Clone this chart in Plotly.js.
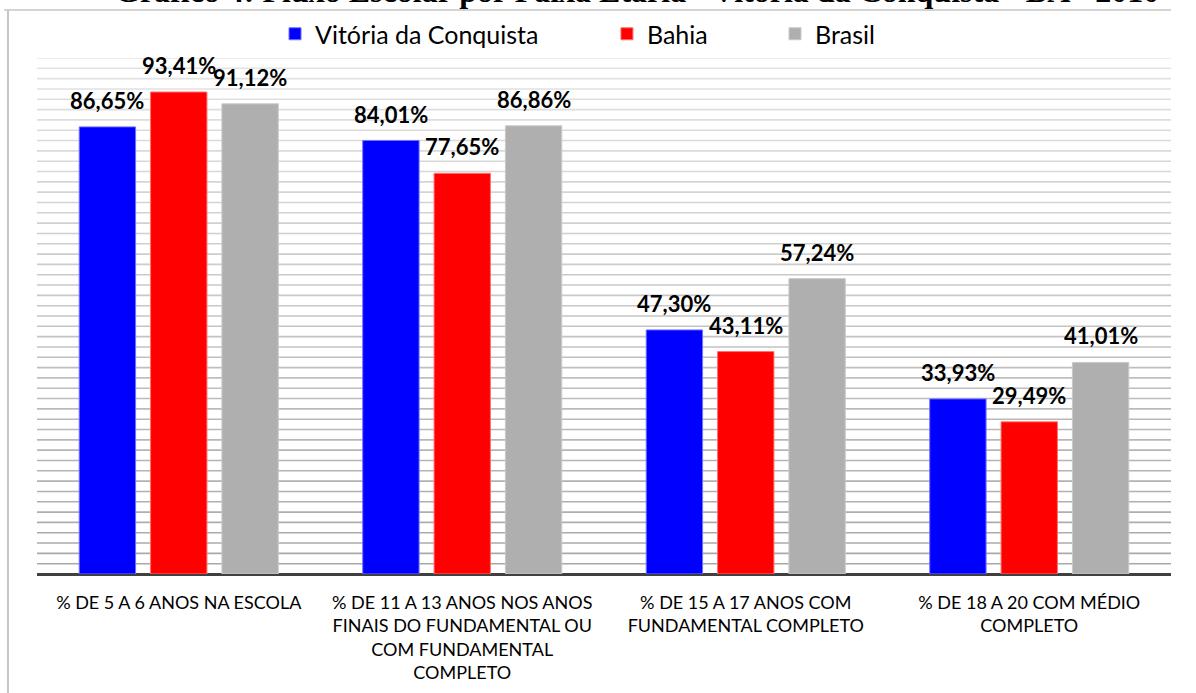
<!DOCTYPE html>
<html>
<head>
<meta charset="utf-8">
<script src="https://cdn.plot.ly/plotly-3.0.1.min.js"></script>
<style>html,body{margin:0;padding:0;background:#fff;}#chart{width:1196px;height:693px;}</style>
</head>
<body>
<div id="chart"></div>
<script>
const categories = [
  "% DE 5 A 6 ANOS NA ESCOLA",
  "% DE 11 A 13 ANOS NOS ANOS<br>FINAIS DO FUNDAMENTAL OU<br>COM FUNDAMENTAL<br>COMPLETO",
  "% DE 15 A 17 ANOS COM<br>FUNDAMENTAL COMPLETO",
  "% DE 18 A 20 COM MÉDIO<br>COMPLETO"
];
const seriesNames = ["Vitória da Conquista", "Bahia", "Brasil"];
const vitoria = [86.65, 84.01, 47.30, 33.93];
const bahia = [93.41, 77.65, 43.11, 29.49];
const brasil = [91.12, 86.86, 57.24, 41.01];
const titleText = "Gráfico 4: Fluxo Escolar por Faixa Etária - Vitória da Conquista - BA - 2010";

const seriesValues = [vitoria, bahia, brasil];
const fills = ["#0000ff", "#ff0000", "#afafaf"];
const edges = ["#7070ff", "#ff7070", "#c9c9c9"];
const legendIds = ["legend", "legend2", "legend3"];
const FONT = "Lato, 'Open Sans', sans-serif";

const traces = seriesValues.map((vals, i) => ({
  type: "bar",
  name: seriesNames[i],
  x: categories,
  y: vals,
  legend: legendIds[i],
  marker: {color: fills[i], line: {color: edges[i], width: 1}},
  hoverinfo: "skip"
}));

// value labels through the axes' scales
const annotations = [];
const pitch = 71.5;
seriesValues.forEach((vals, i) => {
  vals.forEach((v, j) => {
    annotations.push({
      x: categories[j], y: v, xref: "x", yref: "y",
      text: v.toFixed(2).replace(".", ",") + "%",
      showarrow: false, xanchor: "center", yanchor: "bottom",
      xshift: (i - 1) * pitch, yshift: 11,
      font: {family: FONT, size: 22, color: "#000", weight: 700}
    });
  });
});
// title, clipped at the top of the picture as in the reference
annotations.push({
  text: "<b>" + titleText + "</b>", xref: "paper", yref: "paper",
  x: 0.5295, y: 1.129, xanchor: "center", yanchor: "middle", showarrow: false,
  font: {family: "'Liberation Serif', 'Times New Roman', serif", size: 32, color: "#000"}
});

// graded horizontal gridlines
const shapes = [];
for (let g = 2; g <= 100; g += 2) {
  const t = (g - 2) / 98; // 0 bottom -> 1 top
  const c = Math.round(168 + t * (228 - 168));
  shapes.push({type: "line", xref: "paper", yref: "y", x0: 0, x1: 1, y0: g, y1: g,
    line: {color: `rgb(${c},${c},${c})`, width: 1.6}, layer: "below"});
}
// outer frame (left and top edges)
shapes.push({type: "line", xref: "paper", yref: "paper", x0: -0.0256, x1: -0.0256, y0: -0.3, y1: 1.093,
  line: {color: "#c6c6c6", width: 2}});
shapes.push({type: "line", xref: "paper", yref: "paper", x0: -0.029, x1: 1.0, y0: 1.093, y1: 1.093,
  line: {color: "#c6c6c6", width: 1.5}});

const legendBase = {orientation: "h", yanchor: "middle", y: 1.0465, xanchor: "left",
  font: {family: FONT, size: 25, color: "#000"}, bgcolor: "rgba(0,0,0,0)", itemclick: false, itemdoubleclick: false};
const layout = {
  width: 1196, height: 693,
  margin: {l: 37, r: 25, t: 58, b: 119, autoexpand: false},
  paper_bgcolor: "#ffffff", plot_bgcolor: "#ffffff",
  barmode: "group", bargap: 0.245, bargroupgap: 0.21,
  showlegend: true,
  legend: Object.assign({}, legendBase, {x: 0.2099}),
  legend2: Object.assign({}, legendBase, {x: 0.5026}),
  legend3: Object.assign({}, legendBase, {x: 0.6508}),
  xaxis: {
    type: "category", showgrid: false, showline: false, zeroline: false, ticks: "",
    ticklabelstandoff: 16, automargin: false,
    tickfont: {family: FONT, size: 18, color: "#000"}
  },
  yaxis: {
    range: [0, 100], showgrid: false, showticklabels: false, ticks: "", automargin: false,
    zeroline: true, zerolinecolor: "#404040", zerolinewidth: 3, showline: false
  },
  shapes: shapes,
  annotations: annotations
};
Plotly.newPlot("chart", traces, layout, {displayModeBar: false, staticPlot: true});
</script>
</body>
</html>
